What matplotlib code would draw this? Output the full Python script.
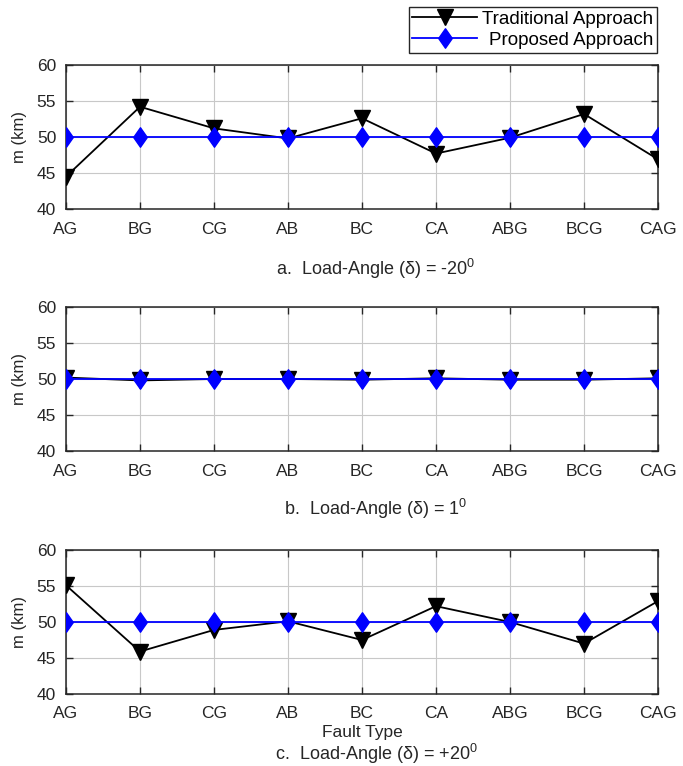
import matplotlib
matplotlib.use("Agg")
import matplotlib.pyplot as plt
from matplotlib.path import Path

plt.rcParams['font.family'] = ['Liberation Sans', 'DejaVu Sans']
plt.rcParams['mathtext.fontset'] = 'custom'
plt.rcParams['mathtext.rm'] = 'Liberation Sans'
plt.rcParams['mathtext.it'] = 'Liberation Sans:italic'

fault_types = ['AG', 'BG', 'CG', 'AB', 'BC', 'CA', 'ABG', 'BCG', 'CAG']

# estimated fault distance m (km) for each load angle
trad_m20 = [44.5, 54.2, 51.2, 49.8, 52.6, 47.7, 49.9, 53.2, 46.9]
prop_m20 = [50.0, 50.0, 50.0, 50.0, 50.0, 50.0, 50.0, 50.0, 50.0]
trad_p1 = [50.2, 49.8, 50.0, 50.0, 49.9, 50.1, 49.9, 49.9, 50.1]
prop_p1 = [50.0, 50.0, 50.0, 50.0, 50.0, 50.0, 50.0, 50.0, 50.0]
trad_p20 = [55.1, 45.9, 48.9, 50.1, 47.5, 52.2, 50.0, 47.0, 52.9]
prop_p20 = [50.0, 50.0, 50.0, 50.0, 50.0, 50.0, 50.0, 50.0, 50.0]

captions = [r'a.  Load-Angle (δ) = -20$^0$',
            r'b.  Load-Angle (δ) = 1$^0$',
            r'c.  Load-Angle (δ) = +20$^0$']

# slightly tall diamond, like MATLAB's 'd'
diamond = Path([(0, 1), (0.7, 0), (0, -1), (-0.7, 0), (0, 1)],
               [Path.MOVETO, Path.LINETO, Path.LINETO, Path.LINETO, Path.CLOSEPOLY])

fig = plt.figure(figsize=(6.83, 7.66), dpi=100)

left, width = 66 / 683, 592 / 683
panels = [(1 - 209 / 766, trad_m20, prop_m20),
          (1 - 451 / 766, trad_p1, prop_p1),
          (1 - 694 / 766, trad_p20, prop_p20)]
x = list(range(len(fault_types)))
axes = []
for bottom, trad, prop in panels:
    ax = fig.add_axes([left, bottom, width, 144 / 766])
    l1, = ax.plot(x, trad, color='black', lw=1.3, marker='v', ms=11.5,
                  mfc='black', mec='black', label='Traditional Approach', zorder=3)
    l2, = ax.plot(x, prop, color='blue', lw=1.3, marker=diamond, ms=14,
                  mfc='blue', mec='blue', label='Proposed Approach', zorder=4)
    ax.set_xlim(0, 8)
    ax.set_ylim(40, 60)
    ax.set_xticks(x)
    ax.set_xticklabels(fault_types)
    ax.set_yticks([40, 45, 50, 55, 60])
    ax.grid(True, color='#c8c8c8', lw=0.8)
    ax.set_axisbelow(True)
    ax.tick_params(direction='in', top=True, right=True, length=5, width=1,
                   labelsize=12.5, colors='#262626', labelcolor='#262626')
    ax.tick_params(axis='x', pad=9)
    ax.tick_params(axis='y', pad=7)
    for s in ax.spines.values():
        s.set_linewidth(1.1)
        s.set_color('#262626')
    ax.set_ylabel('m (km)', fontsize=12, color='#262626')
    ax.yaxis.set_label_coords(-0.066, 0.5)
    axes.append(ax)

axes[2].set_xlabel('Fault Type', fontsize=12.5, color='#262626', labelpad=2.5)

for cap, yc in zip(captions, [269, 509, 754]):
    fig.text(376 / 683, 1 - yc / 766, cap, ha='center', va='center',
             fontsize=13, color='#262626')

leg = fig.legend(handles=[l1, l2], loc='upper right',
                 bbox_to_anchor=(657 / 683, 1 - 7 / 766), borderaxespad=0,
                 fontsize=13.5, fancybox=False, edgecolor='#262626', framealpha=1,
                 handlelength=3.45, handletextpad=0.27, borderpad=0.2,
                 labelspacing=0.2)
leg.get_frame().set_linewidth(1.0)

# right-align the legend labels
fig.canvas.draw()
r = fig.canvas.get_renderer()
widths = [t.get_window_extent(r).width for t in leg.get_texts()]
rows = leg._legend_handle_box.get_children()[0].get_children()
for row, w in zip(rows, widths):
    row.sep += (max(widths) - w) * 72 / fig.dpi

fig.savefig('out.png', dpi=100)
